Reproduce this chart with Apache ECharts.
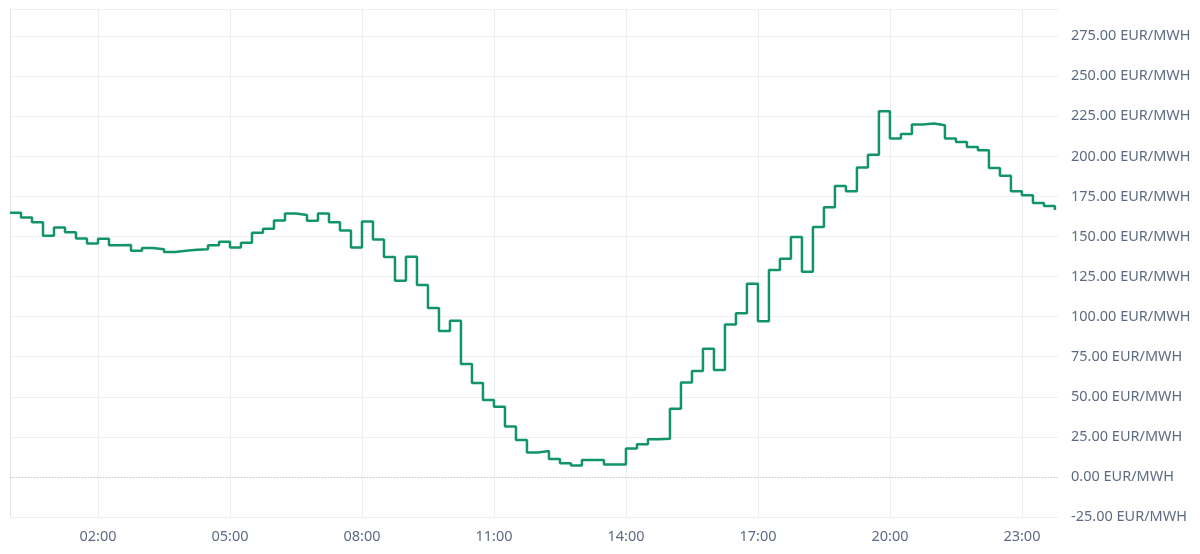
<!DOCTYPE html>
<html>
<head>
<meta charset="utf-8">
<script src="https://cdn.jsdelivr.net/npm/echarts@6/dist/echarts.min.js"></script>
<style>html,body{margin:0;padding:0;background:#fff}#chart{width:1200px;height:554px}</style>
</head>
<body>
<div id="chart"></div>
<script>
// quarter-hour prices, 00:00 .. 23:45
var prices = [
  164.8, 161.9, 159.0, 150.5, 155.7, 152.7, 148.8, 145.7, 148.6, 144.5, 144.8, 141.1,
  142.9, 142.1, 140.3, 141.1, 141.7, 142.1, 144.5, 146.7, 143.2, 146.1, 152.3, 154.8,
  160.0, 164.4, 163.5, 159.8, 164.4, 159.0, 153.8, 143.2, 159.4, 148.2, 137.2, 122.4,
  137.4, 119.7, 105.4, 91.0, 97.5, 70.4, 58.6, 48.0, 43.8, 31.4, 23.1, 15.2,
  16.2, 11.2, 8.5, 7.1, 10.6, 10.6, 7.7, 7.7, 17.7, 20.4, 23.5, 23.9,
  42.6, 59.0, 66.1, 80.0, 66.7, 95.2, 102.1, 120.5, 97.1, 129.1, 136.1, 149.8,
  128.1, 155.9, 168.3, 181.6, 178.3, 193.1, 201.0, 228.2, 211.2, 214.0, 219.9, 220.5,
  219.4, 211.2, 209.0, 205.9, 203.9, 192.8, 188.0, 178.3, 175.8, 171.0, 169.0, 166.5
];
var labelHours = [2, 5, 8, 11, 14, 17, 20, 23];

var data = prices.map(function (v, i) { return [i / 4, v]; });
function hh(h) { return (h < 10 ? '0' : '') + h + ':00'; }

var chart = echarts.init(document.getElementById('chart'));
chart.setOption({
  animation: false,
  grid: { left: 10, right: 142, top: 9, bottom: 37 },
  xAxis: {
    type: 'value', min: 0, max: 23.82,
    axisLine: { show: false },
    axisTick: { show: false, customValues: labelHours },
    axisLabel: {
      customValues: labelHours, color: '#5d6b82', fontSize: 14.5, margin: 12,
      fontFamily: 'Noto Sans', formatter: function (v) { return hh(v); }
    },
    splitLine: { show: true, lineStyle: { color: '#eceef3', width: 1 } }
  },
  yAxis: {
    type: 'value', position: 'right', min: -25, max: 292, interval: 25,
    axisLine: { show: true, lineStyle: { color: '#e3e6ec' } },
    axisTick: { show: false },
    axisLabel: {
      showMaxLabel: false, color: '#5d6b82', fontSize: 14.5, margin: 13,
      fontFamily: 'Noto Sans',
      formatter: function (v) { return v.toFixed(2) + ' EUR/MWH'; }
    },
    splitLine: { lineStyle: { color: '#eef0f4', width: 1 } }
  },
  series: [{
    type: 'line', step: 'end', data: data, showSymbol: false,
    lineStyle: { color: '#11946a', width: 2.5 },
    markLine: {
      silent: true, symbol: 'none', label: { show: false },
      lineStyle: { color: '#b8bcc4', type: [1, 2], width: 1 },
      data: [{ yAxis: 0 }]
    }
  }]
});
</script>
</body>
</html>
